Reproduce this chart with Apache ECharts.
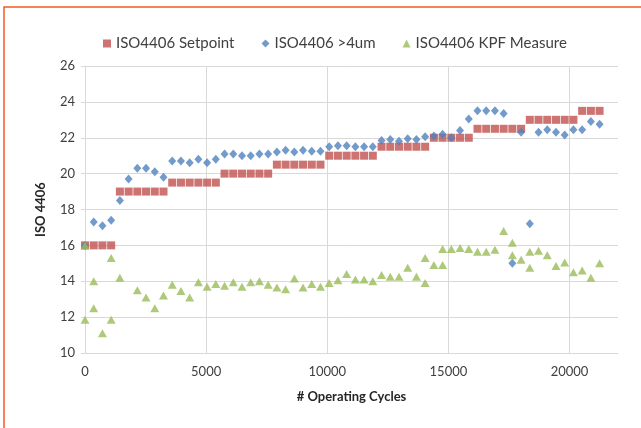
<!DOCTYPE html>
<html>
<head>
<meta charset="utf-8">
<script src="https://cdn.jsdelivr.net/npm/echarts@6/dist/echarts.min.js"></script>
<style>html,body{margin:0;padding:0;background:#fff;}#c{width:641px;height:428px;}</style>
</head>
<body>
<div id="c"></div>
<script>
const cycles = [0,360,720,1080,1440,1800,2160,2520,2880,3240,3600,3960,4320,4680,5040,5400,5760,6120,6480,6840,7200,7560,7920,8280,8640,9000,9360,9720,10080,10440,10800,11160,11520,11880,12240,12600,12960,13320,13680,14040,14400,14760,15120,15480,15840,16200,16560,16920,17280,17640,18000,18360,18720,19080,19440,19800,20160,20520,20880,21240];
const setpoint = [16,16,16,16,19,19,19,19,19,19,19.5,19.5,19.5,19.5,19.5,19.5,20,20,20,20,20,20,20.5,20.5,20.5,20.5,20.5,20.5,21,21,21,21,21,21,21.5,21.5,21.5,21.5,21.5,21.5,22,22,22,22,22,22.5,22.5,22.5,22.5,22.5,22.5,23,23,23,23,23,23,23.5,23.5,23.5];
const above4um = [16,17.3,17.1,17.4,18.5,19.7,20.3,20.3,20.1,19.8,20.7,20.7,20.6,20.8,20.6,20.8,21.1,21.1,21.0,21.0,21.1,21.1,21.2,21.3,21.2,21.3,21.25,21.25,21.5,21.55,21.55,21.5,21.5,21.5,21.85,21.9,21.8,21.95,21.9,22.05,22.1,22.2,22.0,22.4,23.05,23.5,23.5,23.5,23.35,15.0,22.3,17.2,22.3,22.45,22.3,22.15,22.45,22.45,22.9,22.75];
const kpfCycles = [0,0,360,360,720,1080,1080,1440,2160,2520,2880,3240,3600,3960,4320,4680,5040,5400,5760,6120,6480,6840,7200,7560,7920,8280,8640,9000,9360,9720,10080,10440,10800,11160,11520,11880,12240,12600,12960,13320,13680,14040,14040,14400,14760,14760,15120,15480,15840,16200,16560,16920,17280,17640,17640,18000,18360,18360,18720,19080,19440,19800,20160,20520,20880,21240];
const kpfMeasure = [16.0,11.85,14.0,12.5,11.1,15.3,11.85,14.2,13.5,13.1,12.5,13.2,13.8,13.45,13.1,13.95,13.7,13.85,13.75,13.95,13.7,13.95,14.0,13.8,13.65,13.55,14.15,13.65,13.85,13.7,13.9,14.05,14.4,14.1,14.1,14.0,14.35,14.25,14.25,14.75,14.25,15.3,13.9,14.9,15.8,14.9,15.8,15.85,15.8,15.65,15.65,15.75,16.8,16.15,15.45,15.2,15.65,14.75,15.7,15.45,14.85,15.05,14.5,14.6,14.2,15.0];
const seriesNames = ['ISO4406 Setpoint','ISO4406 >4um','ISO4406 KPF Measure'];

const chart = echarts.init(document.getElementById('c'), null, {renderer:'canvas'});
const font = 'Lato, "Open Sans", sans-serif';
const grey = '#d9d9d9';
chart.setOption({
  animation:false,
  backgroundColor:'#fff',
  textStyle:{fontFamily:font},
  graphic:[{type:'rect', silent:true, shape:{x:4,y:7,width:700,height:500}, style:{fill:'none', stroke:'#f15a24', lineWidth:1.5}}],
  legend:{
    left:98, top:31, itemWidth:8, itemHeight:8, itemGap:27,
    itemStyle:{borderWidth:0},
    textStyle:{fontSize:15, color:'#404040', fontFamily:font},
    data:[{name:seriesNames[0], icon:'rect'},{name:seriesNames[1], icon:'diamond'},{name:seriesNames[2], icon:'triangle'}]
  },
  grid:{left:85, right:23, top:66, bottom:75, containLabel:false},
  xAxis:{
    type:'value', min:0, max:22000, interval:5000,
    name:'# Operating Cycles', nameLocation:'middle', nameGap:37,
    nameTextStyle:{fontSize:13, fontWeight:'bold', color:'#262626', fontFamily:font},
    axisLine:{show:true, lineStyle:{color:grey}},
    axisTick:{show:false},
    axisLabel:{fontSize:13, color:'#404040', margin:12, showMaxLabel:false, formatter:v=>String(v)},
    splitLine:{show:true, showMaxLine:false, lineStyle:{color:grey}}
  },
  yAxis:{
    type:'value', min:10, max:26, interval:2,
    name:'ISO 4406', nameLocation:'middle', nameGap:38,
    nameTextStyle:{fontSize:13, fontWeight:'bold', color:'#262626', fontFamily:font},
    axisLine:{show:true, lineStyle:{color:grey}},
    axisTick:{show:true, length:4, lineStyle:{color:grey}},
    axisLabel:{fontSize:13, color:'#404040', margin:10},
    splitLine:{show:true, lineStyle:{color:grey}}
  },
  series:[
    {name:seriesNames[0], type:'scatter', symbol:'rect', symbolSize:8,
     itemStyle:{color:'#c0504d'},
     data:cycles.map((c,i)=>[c,setpoint[i]])},
    {name:seriesNames[1], type:'scatter', symbol:'diamond', symbolSize:[8,9],
     itemStyle:{color:'#4f81bd'},
     data:cycles.map((c,i)=>[c,above4um[i]])},
    {name:seriesNames[2], type:'scatter', symbol:'triangle', symbolSize:[9,8],
     itemStyle:{color:'#9bbb59'},
     data:kpfCycles.map((c,i)=>[c,kpfMeasure[i]])}
  ]
});
</script>
</body>
</html>
